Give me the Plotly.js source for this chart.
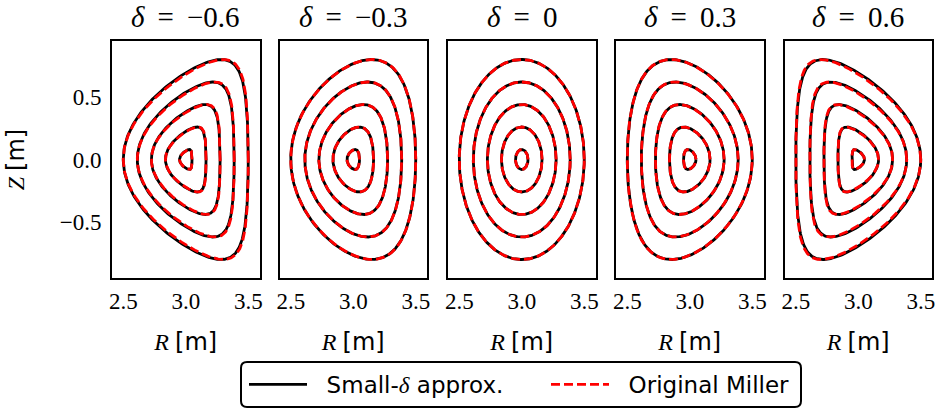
<!DOCTYPE html>
<html>
<head>
<meta charset="utf-8">
<script src="https://cdn.plot.ly/plotly-3.0.1.min.js"></script>
<style>html,body{margin:0;padding:0;background:#fff;}#chart{width:939px;height:412px;}</style>
</head>
<body>
<div id="chart"></div>
<script>
// Miller flux-surface parameters
const deltas = [-0.6, -0.3, 0, 0.3, 0.6];
const deltaLabels = ['\u22120.6', '\u22120.3', '0', '0.3', '0.6'];
const minorRadii = [0.05, 0.1625, 0.275, 0.3875, 0.5];
const R0 = 3.0;
const kappa = 1.6;
const xTickVals = [2.5, 3.0, 3.5];
const xTickText = ['2.5', '3.0', '3.5'];
const yTickVals = [-0.5, 0.0, 0.5];
const yTickText = ['\u22120.5', '0.0', '0.5'];
const seriesNames = ['\u00a0\u00a0Small-<span style="font-family:\'Liberation Serif\';font-style:italic">\u03b4</span> approx.', '\u00a0\u00a0Original Miller'];

const W = 939, H = 412;
const SERIF = "'Liberation Serif', serif";
const nTheta = 361;
const theta = [];
for (let k = 0; k < nTheta; k++) theta.push(2 * Math.PI * k / (nTheta - 1));

const traces = [];
const layout = {
  width: W, height: H,
  margin: {l: 0, r: 0, t: 0, b: 0},
  paper_bgcolor: '#fff', plot_bgcolor: '#fff',
  font: {family: SERIF, color: '#000', size: 23},
  showlegend: true,
  legend: {
    orientation: 'h', x: 244 / W, y: (H - 384.5) / H, xanchor: 'left', yanchor: 'middle',
    font: {family: 'DejaVu Sans', size: 23, color: '#000'},
    bgcolor: 'rgba(0,0,0,0)', borderwidth: 0, entrywidth: 229, itemwidth: 58
  },
  annotations: [], shapes: []
};

const lefts = [111, 278.5, 447, 615, 783.5];
const frameW = 149.5;
const yDom = [(H - 278) / H, (H - 41) / H];

deltas.forEach((d, i) => {
  const sfx = i === 0 ? '' : String(i + 1);
  const xa = 'x' + sfx, ya = 'y' + sfx;
  minorRadii.forEach((r, j) => {
    const Rs = theta.map(t => R0 + r * Math.cos(t + d * Math.sin(t)));
    const Zs = theta.map(t => kappa * r * Math.sin(t));
    traces.push({type: 'scatter', mode: 'lines', x: Rs, y: Zs, xaxis: xa, yaxis: ya,
      line: {color: '#000', width: 2.8}, name: seriesNames[0], legendgroup: 'a',
      showlegend: i === 0 && j === 0, hoverinfo: 'skip'});
  });
  minorRadii.forEach((r, j) => {
    const x = Math.asin(d);
    const Rm = theta.map(t => R0 + r * Math.cos(t + x * Math.sin(t)));
    const Zm = theta.map(t => kappa * r * Math.sin(t));
    traces.push({type: 'scatter', mode: 'lines', x: Rm, y: Zm, xaxis: xa, yaxis: ya,
      line: {color: '#ff0000', width: 2.8, dash: '9px,4px'}, name: seriesNames[1], legendgroup: 'b',
      showlegend: i === 0 && j === 0, hoverinfo: 'skip'});
  });
  const L = lefts[i];
  layout['xaxis' + sfx] = {
    domain: [(L + 1) / W, (L + frameW - 1) / W], anchor: ya,
    range: [2.41, 3.59], tickvals: xTickVals, ticktext: xTickText,
    ticks: '', ticklabelstandoff: 1, showgrid: false, zeroline: false,
    showline: true, mirror: true, linecolor: '#000', linewidth: 2,
    tickfont: {family: SERIF, size: 23, color: '#000'},
    title: {text: '<i>R</i> <span style="font-family:\'DejaVu Sans\'">[m]</span>', font: {family: SERIF, size: 24, color: '#000'}, standoff: 21}
  };
  layout['yaxis' + sfx] = {
    domain: yDom, anchor: xa,
    range: [-0.948, 0.948], tickvals: yTickVals, ticktext: yTickText,
    ticks: '', ticklabelstandoff: 4, showgrid: false, zeroline: false,
    showline: true, mirror: true, linecolor: '#000', linewidth: 2,
    showticklabels: i === 0,
    tickfont: {family: SERIF, size: 23, color: '#000'},
    title: i === 0 ? {text: '<i>Z</i> <span style="font-family:\'DejaVu Sans\'">[m]</span>', font: {family: SERIF, size: 24, color: '#000'}, standoff: 28} : {text: ''}
  };
  layout.annotations.push({
    xref: 'paper', yref: 'paper', x: (L + frameW / 2) / W, y: (H - 17) / H,
    xanchor: 'center', yanchor: 'middle', showarrow: false,
    text: '<i>\u03b4</i> \u2009=\u2009 ' + deltaLabels[i], font: {family: SERIF, size: 29, color: '#000'}
  });
});

// rounded legend frame
const bx0 = 241 / W, bx1 = 801 / W, by0 = (H - 407) / H, by1 = (H - 362) / H;
const rx = 6 / W, ry = 6 / H;
const p = `M ${bx0 + rx},${by1} L ${bx1 - rx},${by1} Q ${bx1},${by1} ${bx1},${by1 - ry} L ${bx1},${by0 + ry} Q ${bx1},${by0} ${bx1 - rx},${by0} L ${bx0 + rx},${by0} Q ${bx0},${by0} ${bx0},${by0 + ry} L ${bx0},${by1 - ry} Q ${bx0},${by1} ${bx0 + rx},${by1} Z`;
layout.shapes.push({type: 'path', xref: 'paper', yref: 'paper', path: p, line: {color: '#000', width: 2}, fillcolor: 'rgba(0,0,0,0)', layer: 'below'});

Plotly.newPlot('chart', traces, layout, {staticPlot: true, displayModeBar: false});
</script>
</body>
</html>
